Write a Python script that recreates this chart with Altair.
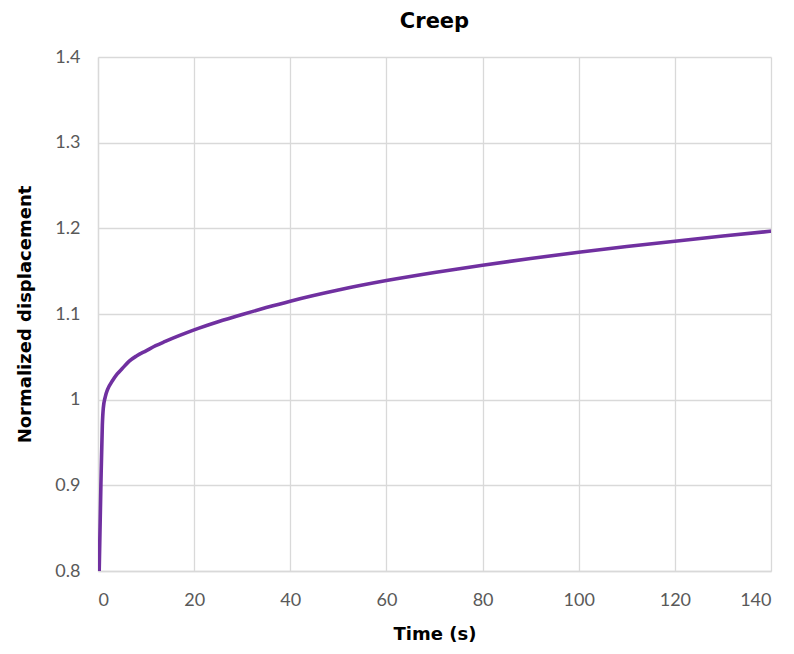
import altair as alt
import pandas as pd

time_s = [0.25, 0.6, 0.9, 1.1, 1.5, 2, 3, 4, 5, 6.5, 8, 10, 12, 14, 17, 20,
          25, 30, 35, 40, 50, 60, 70, 80, 90, 100, 110, 120, 130, 140]
disp = [0.80, 0.90, 0.97, 0.99, 1.003, 1.012, 1.022, 1.030, 1.036, 1.045, 1.051,
        1.057, 1.063, 1.068, 1.075, 1.0815, 1.091, 1.0995, 1.1075, 1.115, 1.128,
        1.139, 1.1485, 1.157, 1.1648, 1.172, 1.1787, 1.185, 1.191, 1.1967]

x_ticks = [0, 20, 40, 60, 80, 100, 120, 140]
y_ticks = [0.8, 0.9, 1.0, 1.1, 1.2, 1.3, 1.4]

df = pd.DataFrame({"t": time_s, "d": disp})

LABEL_FONT = "Lato"
TITLE_FONT = "DejaVu Sans"
GRID = "#d9d9d9"

chart = alt.Chart(df).mark_line(
    color="#7030A0", strokeWidth=3.6, interpolate="monotone", clip=True
).encode(
    x=alt.X("t:Q", title="Time (s)",
            scale=alt.Scale(domain=[0, 140], nice=False, zero=False),
            axis=alt.Axis(values=x_ticks, labelPadding=20, titlePadding=16)),
    y=alt.Y("d:Q", title="Normalized displacement",
            scale=alt.Scale(domain=[0.8, 1.4], nice=False, zero=False),
            axis=alt.Axis(values=y_ticks, format=".1~f", labelPadding=18,
                          titlePadding=20)),
).properties(
    width=673, height=514,
    title=alt.TitleParams("Creep", fontSize=21, fontWeight="bold", font=TITLE_FONT,
                          color="#000000", offset=16, anchor="middle"),
    autosize=alt.AutoSizeParams(type="none"),
    padding={"left": 90, "top": 49, "right": 15, "bottom": 75},
).configure_axis(
    grid=True, gridColor=GRID, gridWidth=1.3,
    domain=True, domainColor=GRID, domainWidth=1.3,
    ticks=False,
    labelFont=LABEL_FONT, labelFontSize=18, labelColor="#595959",
    titleFont=TITLE_FONT, titleFontSize=18, titleFontWeight="bold", titleColor="#000000",
).configure_view(stroke=None)

chart.save("out.html", embed_options={"renderer": "svg", "actions": False})
